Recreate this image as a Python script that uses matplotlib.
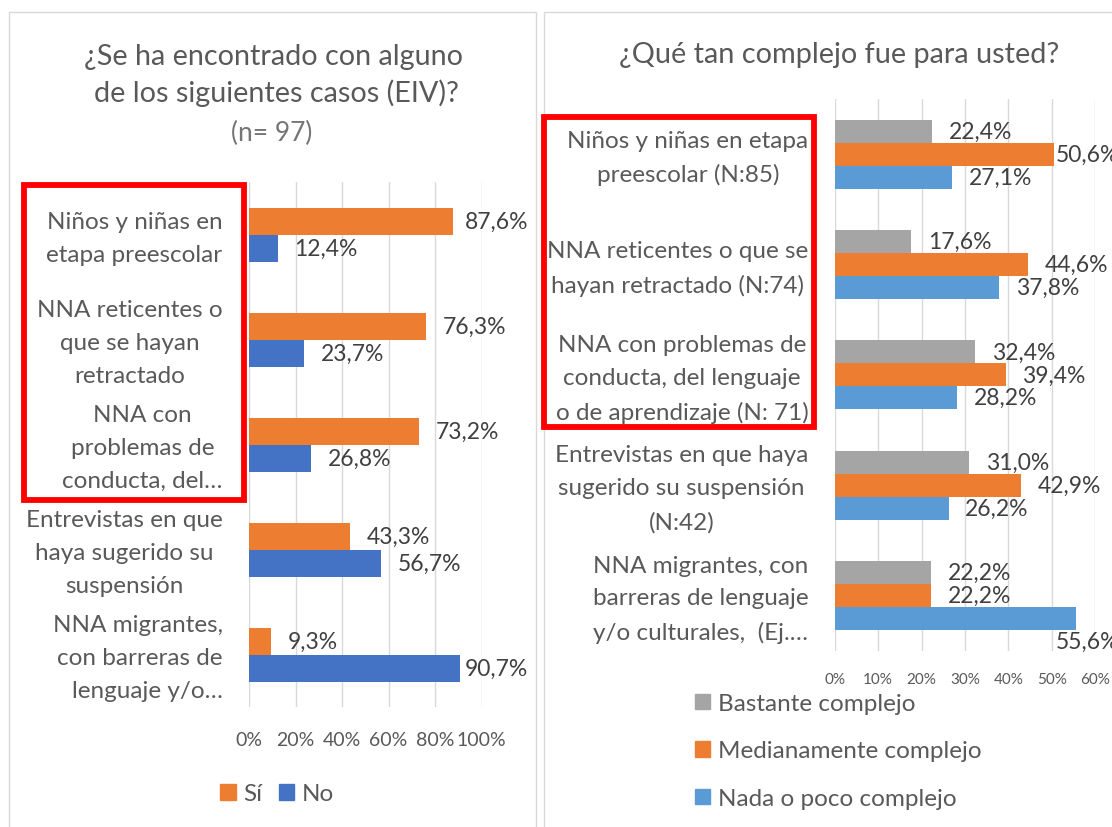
import matplotlib
matplotlib.use("Agg")
import matplotlib.pyplot as plt
from matplotlib.patches import Patch, Rectangle
from matplotlib.transforms import ScaledTranslation

plt.rcParams['font.family'] = ['Lato', 'DejaVu Sans']

# ---------------- data ----------------
left_title = ["¿Se ha encontrado con alguno", "de los siguientes casos (EIV)?"]
left_subtitle = "(n= 97)"
left_categories = [
    "Niños y niñas en\netapa preescolar",
    "NNA reticentes o\nque se hayan\nretractado",
    "NNA con\nproblemas de\nconducta, del…",
    "Entrevistas en que\nhaya sugerido su\nsuspensión",
    "NNA migrantes,\ncon barreras de\nlenguaje y/o…",
]
left_series = ["Sí", "No"]
left_si = [87.6, 76.3, 73.2, 43.3, 9.3]
left_no = [12.4, 23.7, 26.8, 56.7, 90.7]
left_ticks = [0, 20, 40, 60, 80, 100]
left_ticklabels = ["0%", "20%", "40%", "60%", "80%", "100%"]

right_title = "¿Qué tan complejo fue para usted?"
right_categories = [
    "Niños y niñas en etapa\npreescolar (N:85)",
    "NNA reticentes o que se\nhayan retractado (N:74)",
    "NNA con problemas de\nconducta, del lenguaje\no de aprendizaje (N: 71)",
    "Entrevistas en que haya\nsugerido su suspensión\n(N:42)",
    "NNA migrantes, con\nbarreras de lenguaje\ny/o culturales,  (Ej.…",
]
right_series = ["Bastante complejo", "Medianamente complejo", "Nada o poco complejo"]
right_bastante = [22.4, 17.6, 32.4, 31.0, 22.2]
right_medianamente = [50.6, 44.6, 39.4, 42.9, 22.2]
right_nada = [27.1, 37.8, 28.2, 26.2, 55.6]
right_ticks = [0, 10, 20, 30, 40, 50, 60]
right_ticklabels = ["0%", "10%", "20%", "30%", "40%", "50%", "60%"]

# ---------------- style ----------------
ORANGE = "#ED7D31"
BLUE_DARK = "#4472C4"
BLUE_LIGHT = "#5B9BD5"
GRAY = "#A5A5A5"
TXT = "#595959"
VAL = "#404040"
GRID = "#D9D9D9"

W, H = 1112, 828
fig = plt.figure(figsize=(W / 100, H / 100), dpi=100)


def fx(x):
    return x / W


def fy(y):
    return 1 - y / H


def rect(l, t, r, b):
    return [fx(l), fy(b), (r - l) / W, (b - t) / H]


# panel frames
for (l, t, r, b) in [(8.6, 13, 536, 860), (543.5, 13, 1160, 860)]:
    fig.add_artist(Rectangle((fx(l), fy(b)), (r - l) / W, (b - t) / H,
                             transform=fig.transFigure, fill=False,
                             edgecolor=GRID, lw=1.0, zorder=0))


def style_axes(ax, xmax, ticks, ticklabels, tick_fs, tick_pad, cats, cat_pad):
    ax.set_xlim(0, xmax)
    ax.set_ylim(len(cats) - 0.5, -0.5)
    ax.set_facecolor("none")
    for s in ax.spines.values():
        s.set_visible(False)
    ax.set_axisbelow(True)
    ax.xaxis.grid(True, color=GRID, lw=1.0)
    ax.set_xticks(ticks, labels=ticklabels)
    ax.set_yticks(range(len(cats)), labels=cats)
    ax.tick_params(axis="x", length=0, labelsize=tick_fs, labelcolor=TXT, pad=tick_pad)
    ax.tick_params(axis="y", length=0, labelsize=17.5, labelcolor=TXT, pad=cat_pad)
    lift = ScaledTranslation(0, 5 / 100, fig.dpi_scale_trans)
    for lab in ax.get_yticklabels():
        lab.set_multialignment("center")
        lab.set_linespacing(1.7)
        lab.set_transform(lab.get_transform() + lift)


def value_labels(ax, vals, ypos):
    out = []
    for v, y in zip(vals, ypos):
        txt = f"{v:.1f}".replace(".", ",") + "%"
        a = ax.annotate(txt, xy=(v, y), xytext=(12, 0), textcoords="offset points",
                        ha="left", va="center", fontsize=16.5, color=VAL,
                        annotation_clip=False)
        out.append((a, v, y))
    return out


# ---------------- left chart ----------------
axL = fig.add_axes(rect(249, 183.3, 481.5, 708.3))
hL = 0.257
yL = list(range(len(left_categories)))
style_axes(axL, 100, left_ticks, left_ticklabels, 14, 17, left_categories, 19)
axL.get_yticklabels()[4].set_multialignment("right")
axL.barh([y - hL / 2 for y in yL], left_si, height=hL, color=ORANGE, label=left_series[0])
axL.barh([y + hL / 2 for y in yL], left_no, height=hL, color=BLUE_DARK, label=left_series[1])
annsL = value_labels(axL, left_si, [y - hL / 2 for y in yL]) + \
    value_labels(axL, left_no, [y + hL / 2 for y in yL])

# ---------------- right chart ----------------
axR = fig.add_axes(rect(834.8, 100, 1095.2, 651.7))
hR = 0.208
yR = list(range(len(right_categories)))
style_axes(axR, 60, right_ticks, right_ticklabels, 11, 15, right_categories, 19)
axR.barh([y - hR for y in yR], right_bastante, height=hR, color=GRAY, label=right_series[0])
axR.barh(yR, right_medianamente, height=hR, color=ORANGE, label=right_series[1])
axR.barh([y + hR for y in yR], right_nada, height=hR, color=BLUE_LIGHT, label=right_series[2])
annsR = value_labels(axR, right_bastante, [y - hR for y in yR]) + \
    value_labels(axR, right_medianamente, yR) + \
    value_labels(axR, right_nada, [y + hR for y in yR])

# ---------------- titles ----------------
fig.text(fx(273), fy(65), left_title[0], ha="center", va="baseline", fontsize=20.7, color=TXT)
fig.text(fx(276), fy(102), left_title[1], ha="center", va="baseline", fontsize=20.7, color=TXT)
fig.text(fx(272), fy(141), left_subtitle, ha="center", va="baseline", fontsize=19,
         color="#757575")
fig.text(fx(839), fy(63), right_title, ha="center", va="baseline", fontsize=20.8, color=TXT)

# ---------------- legends ----------------
fig.legend(handles=[Patch(color=ORANGE), Patch(color=BLUE_DARK)], labels=left_series,
           loc="center", bbox_to_anchor=(fx(277), fy(795)), ncol=2, frameon=False,
           fontsize=17.5, handlelength=0.64, handleheight=0.64, handletextpad=0.3,
           columnspacing=0.7, labelcolor=TXT, borderpad=0, borderaxespad=0)
fig.legend(handles=[Patch(color=GRAY), Patch(color=ORANGE), Patch(color=BLUE_LIGHT)],
           labels=right_series, loc="center left", bbox_to_anchor=(fx(695), fy(752)),
           ncol=1, frameon=False, fontsize=17.5, handlelength=0.6, handleheight=0.6,
           handletextpad=0.35, labelspacing=1.09, labelcolor=TXT, borderpad=0,
           borderaxespad=0)

# ---------------- red highlight boxes ----------------
for (l, t, r, b) in [(23.5, 185.5, 243.7, 500.5), (544.3, 117.5, 813.5, 427.5)]:
    fig.add_artist(Rectangle((fx(l), fy(b)), (r - l) / W, (b - t) / H,
                             transform=fig.transFigure, fill=False,
                             edgecolor="#FF0000", lw=4.2, zorder=10))

# ---------------- keep value labels inside chart area ----------------
fig.canvas.draw()
renderer = fig.canvas.get_renderer()


def clamp(ax, anns, bar_h, right_px):
    for a, v, y in anns:
        bb = a.get_window_extent(renderer)
        if bb.x1 > right_px:
            shift = bb.x1 - right_px
            dx, dy = a.xyann
            dx -= shift * 72 / fig.dpi
            end_px = ax.transData.transform((v, y))[0]
            if bb.x0 - shift < end_px - 1:
                hpx = abs(ax.transData.transform((0, y + bar_h))[1] -
                          ax.transData.transform((0, y))[1])
                dy -= hpx * 72 / fig.dpi
            a.xyann = (dx, dy)


clamp(axL, annsL, hL, 528)
clamp(axR, annsR, hR, 1119)

fig.savefig("out.png", dpi=100)
